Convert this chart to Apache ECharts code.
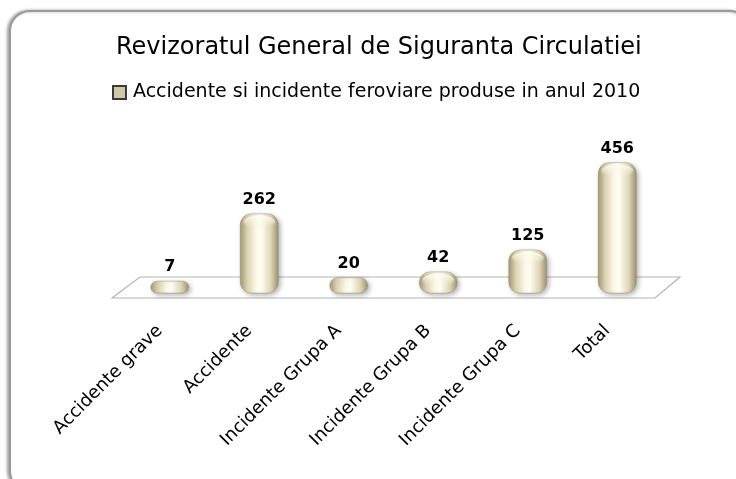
<!DOCTYPE html>
<html>
<head>
<meta charset="utf-8">
<script src="https://cdn.jsdelivr.net/npm/echarts@6/dist/echarts.min.js"></script>
<style>html,body{margin:0;padding:0;background:#fff;}#c{width:736px;height:479px;}</style>
</head>
<body>
<div id="c"></div>
<script>
const categories = ['Accidente grave', 'Accidente', 'Incidente Grupa A', 'Incidente Grupa B', 'Incidente Grupa C', 'Total'];
const values = [7, 262, 20, 42, 125, 456];
const titleText = 'Revizoratul General de Siguranta Circulatiei';
const seriesName = 'Accidente si incidente feroviare produse in anul 2010';

const FONT = '"Comic Sans MS", "DejaVu Sans", sans-serif';
const chart = echarts.init(document.getElementById('c'));

function renderItem(params, api) {
  const base = api.coord([api.value(0), 0]);
  const topP = api.coord([api.value(0), api.value(1)]);
  const x = base[0], y0 = base[1], yt = topP[1];
  const w = 38, ry = 5;
  const top = yt - ry, bottom = y0 + ry;
  const h = bottom - top;
  const r = Math.min(h / 2, 11);
  const grad = new echarts.graphic.LinearGradient(0, 0, 1, 0, [
    {offset: 0, color: '#a39876'},
    {offset: 0.18, color: '#d8d0ae'},
    {offset: 0.42, color: '#fbf8e6'},
    {offset: 0.55, color: '#fffdf2'},
    {offset: 0.8, color: '#ddd5b4'},
    {offset: 1, color: '#9a906f'}
  ]);
  const capGrad = new echarts.graphic.LinearGradient(0, 0, 0, 1, [
    {offset: 0, color: 'rgba(255,254,246,0.9)'},
    {offset: 1, color: 'rgba(246,241,220,0)'}
  ]);
  const children = [
    {
      type: 'rect',
      shape: {x: x - w / 2, y: top, width: w, height: h, r: r},
      style: {fill: grad, stroke: 'rgba(140,130,100,0.5)', lineWidth: 0.8, shadowBlur: 5, shadowColor: 'rgba(0,0,0,0.3)', shadowOffsetX: 2, shadowOffsetY: 2}
    }
  ];
  if (h > 16) {
    children.push({
      type: 'ellipse',
      shape: {cx: x, cy: top + 8, rx: w / 2 - 3, ry: 6},
      style: {fill: capGrad}
    });
  }
  children.push({
    type: 'text',
    style: {
      text: String(api.value(1)),
      x: x,
      y: top - 6,
      align: 'center',
      verticalAlign: 'bottom',
      font: 'bold 16px ' + FONT,
      fill: '#000'
    }
  });
  return {type: 'group', children: children};
}

chart.setOption({
  animation: false,
  backgroundColor: '#fff',
  graphic: [
    {
      type: 'rect', z: -10,
      shape: {x: 10, y: 11, width: 740, height: 480, r: 20},
      style: {fill: '#fff', stroke: '#9a9a9a', lineWidth: 2, shadowBlur: 3, shadowColor: 'rgba(0,0,0,0.3)', shadowOffsetX: -2, shadowOffsetY: 0}
    },
    {
      type: 'polygon', z: -5,
      shape: {points: [[140, 277], [680, 277], [655, 298], [112, 298]]},
      style: {fill: '#fff', stroke: '#b4b4b4', lineWidth: 1.2}
    }
  ],
  title: {
    text: titleText,
    left: 111, top: 31,
    textStyle: {fontFamily: FONT, fontSize: 24, fontWeight: 'normal', color: '#000'}
  },
  legend: {
    left: 107, top: 78,
    itemWidth: 13, itemHeight: 13,
    icon: 'rect',
    textStyle: {fontFamily: FONT, fontSize: 19, color: '#000', padding: [0, 0, 0, 2]},
    data: [seriesName]
  },
  grid: [
    {left: 125, right: 74, top: 156, bottom: 191},
    {left: 115, right: 84, top: 156, bottom: 191}
  ],
  xAxis: [
    {
      type: 'category', gridIndex: 0,
      data: categories,
      axisLine: {show: false}, axisTick: {show: false}, axisLabel: {show: false}
    },
    {
      type: 'category', gridIndex: 1,
      data: categories,
      axisLine: {show: false}, axisTick: {show: false},
      axisLabel: {rotate: 45, margin: 40, fontFamily: FONT, fontSize: 18, color: '#000', interval: 0}
    }
  ],
  yAxis: [
    {type: 'value', min: 0, max: 500, show: false, gridIndex: 0},
    {type: 'value', min: 0, max: 500, show: false, gridIndex: 1}
  ],
  series: [{
    type: 'custom',
    name: seriesName,
    xAxisIndex: 0, yAxisIndex: 0,
    renderItem: renderItem,
    itemStyle: {color: '#cfc7a6', borderColor: '#3a3a3a', borderWidth: 1},
    encode: {x: 0, y: 1},
    data: values.map((v, i) => [i, v])
  }]
});
</script>
</body>
</html>
